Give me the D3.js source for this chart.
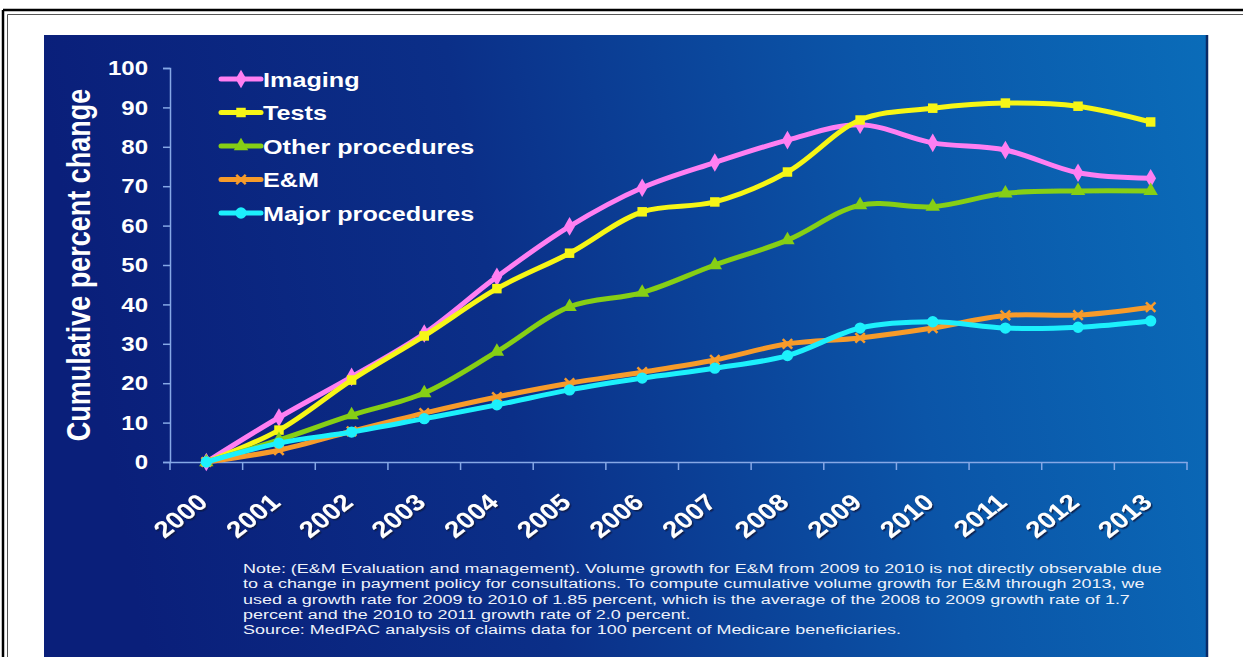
<!DOCTYPE html>
<html>
<head>
<meta charset="utf-8">
<script src="https://cdn.jsdelivr.net/npm/d3@7"></script>
<style>
  html, body { margin: 0; padding: 0; background: #fff; }
  svg { display: block; }
  text { font-family: "Liberation Sans", Arial, Helvetica, sans-serif; }
</style>
</head>
<body>
<svg id="chart" width="1243" height="657"></svg>
<script>
// Medicare volume growth by service type, cumulative percent change since 2000
const years = ["2000","2001","2002","2003","2004","2005","2006","2007","2008","2009","2010","2011","2012","2013"];

const imaging  = [0, 11.3, 21.6, 32.6, 47.0, 59.8, 69.6, 76.0, 81.7, 85.6, 81.0, 79.2, 73.4, 72.0];
const tests    = [0, 8.1, 20.8, 32.0, 44.0, 53.0, 63.5, 66.0, 73.6, 86.8, 89.8, 91.1, 90.3, 86.3];
const otherProcedures = [0, 5.6, 11.9, 17.5, 28.0, 39.4, 43.0, 50.0, 56.3, 65.2, 64.8, 68.2, 68.8, 68.8];
const eAndM    = [0, 3.0, 7.8, 12.4, 16.5, 20.0, 22.8, 25.9, 30.0, 31.5, 34.0, 37.2, 37.3, 39.3];
const majorProcedures = [0, 4.8, 7.6, 11.0, 14.5, 18.3, 21.3, 23.8, 27.0, 34.0, 35.6, 34.0, 34.2, 35.8];

const seriesNames = ["Imaging", "Tests", "Other procedures", "E&M", "Major procedures"];
const yTicks = [0, 10, 20, 30, 40, 50, 60, 70, 80, 90, 100];

const noteLines = [
  "Note: (E&M Evaluation and management). Volume growth for E&M from 2009 to 2010 is not directly observable due",
  "to a change in payment policy for consultations. To compute cumulative volume growth for E&M through 2013, we",
  "used a growth rate for 2009 to 2010 of 1.85 percent,  which is the average of the 2008 to 2009 growth rate of 1.7",
  "percent and the 2010 to 2011 growth rate of 2.0 percent.",
  "Source: MedPAC analysis of claims data for 100 percent of Medicare beneficiaries."
];

const series = [
  { name: seriesNames[0], values: imaging,         color: "#ff7ff2", symbol: d3.symbolDiamond,  size: 100, stroke: false },
  { name: seriesNames[1], values: tests,           color: "#f6f614", symbol: d3.symbolSquare,   size: 90,  stroke: false },
  { name: seriesNames[2], values: otherProcedures, color: "#86cf12", symbol: d3.symbolTriangle, size: 90,  stroke: false },
  { name: seriesNames[3], values: eAndM,           color: "#f79b2c", symbol: d3.symbolTimes,    size: 60,  stroke: true  },
  { name: seriesNames[4], values: majorProcedures, color: "#1ff0fc", symbol: d3.symbolCircle,   size: 100, stroke: false }
];

// The slide artwork is wider than it is tall; text is stretched to match
const SX = 1.2;
const NOTE_SX = 1.33;

const svg = d3.select("#chart");
const defs = svg.append("defs");

const grad = defs.append("linearGradient")
  .attr("id", "panelGrad")
  .attr("x1", "0%").attr("y1", "10%")
  .attr("x2", "100%").attr("y2", "0%");
grad.append("stop").attr("offset", "0%").attr("stop-color", "#0a1f7a");
grad.append("stop").attr("offset", "35%").attr("stop-color", "#0b2f88");
grad.append("stop").attr("offset", "70%").attr("stop-color", "#0b55a8");
grad.append("stop").attr("offset", "100%").attr("stop-color", "#0a6cb9");

const shadow = defs.append("filter").attr("id", "labelShadow")
  .attr("x", "-20%").attr("y", "-20%").attr("width", "140%").attr("height", "140%");
shadow.append("feDropShadow")
  .attr("dx", 1.5).attr("dy", 1.5).attr("stdDeviation", 0.7)
  .attr("flood-color", "#0a1840").attr("flood-opacity", 0.85);

const soft = defs.append("filter").attr("id", "soft");
soft.append("feGaussianBlur").attr("stdDeviation", 0.5);

// Page frame: double rule along the top and left
svg.append("line").attr("x1", 3).attr("x2", 1243).attr("y1", 10).attr("y2", 10)
  .attr("stroke", "#000").attr("stroke-width", 2.5);
svg.append("line").attr("x1", 3).attr("x2", 3).attr("y1", 10).attr("y2", 657)
  .attr("stroke", "#000").attr("stroke-width", 2.5);
svg.append("line").attr("x1", 7.5).attr("x2", 1243).attr("y1", 14.5).attr("y2", 14.5)
  .attr("stroke", "#555").attr("stroke-width", 1);
svg.append("line").attr("x1", 7.5).attr("x2", 7.5).attr("y1", 14.5).attr("y2", 657)
  .attr("stroke", "#555").attr("stroke-width", 1);

// Blue slide panel
svg.append("rect")
  .attr("x", 44).attr("y", 35).attr("width", 1164).attr("height", 640)
  .attr("fill", "url(#panelGrad)");
svg.append("line").attr("x1", 1207).attr("x2", 1207).attr("y1", 35).attr("y2", 657)
  .attr("stroke", "#0a2a66").attr("stroke-width", 2.5);

const plot = { left: 170, right: 1187, top: 68, bottom: 462 };

const x = d3.scaleBand().domain(years).range([plot.left, plot.right]);
const y = d3.scaleLinear().domain([0, 100]).range([plot.bottom, plot.top]);
const cx = d => x(d) + x.bandwidth() / 2;

const axisColor = "#86a8e6";

// Y axis
const yAxis = svg.append("g")
  .attr("transform", `translate(${plot.left},0)`)
  .call(d3.axisLeft(y).tickValues(yTicks).tickSize(7).tickFormat(""));
yAxis.select(".domain").attr("stroke", axisColor).attr("stroke-width", 1.5);
yAxis.selectAll(".tick line").attr("stroke", axisColor).attr("stroke-width", 1.5);

svg.append("g").selectAll("text")
  .data(yTicks)
  .join("text")
  .attr("transform", d => `translate(148,${y(d)}) scale(${SX},1)`)
  .attr("text-anchor", "end")
  .attr("dy", "0.36em")
  .attr("fill", "#fff")
  .attr("font-weight", "bold")
  .attr("font-size", 20)
  .text(d => d);

// X axis: ticks on category boundaries
const xAxis = svg.append("g")
  .attr("transform", `translate(0,${plot.bottom})`)
  .call(d3.axisBottom(x).tickSize(0).tickFormat(""));
xAxis.select(".domain").attr("stroke", axisColor).attr("stroke-width", 1.5);
xAxis.selectAll(".tick").remove();
const boundaries = years.map(d => x(d)).concat([plot.right]);
xAxis.selectAll(".bound")
  .data(boundaries)
  .join("line")
  .attr("class", "bound")
  .attr("x1", d => d).attr("x2", d => d)
  .attr("y1", 0).attr("y2", 8)
  .attr("stroke", axisColor).attr("stroke-width", 1.5);

svg.append("g").attr("filter", "url(#labelShadow)")
  .selectAll("text")
  .data(years)
  .join("text")
  .attr("transform", d => `translate(${cx(d) + 3},${plot.bottom + 42}) scale(${SX},1) rotate(-43)`)
  .attr("text-anchor", "end")
  .attr("fill", "#fff")
  .attr("font-weight", "bold")
  .attr("font-size", 23)
  .text(d => d);

// Y axis title
svg.append("text")
  .attr("transform", `translate(90,${(plot.top + plot.bottom) / 2}) scale(${SX},1) rotate(-90)`)
  .attr("text-anchor", "middle")
  .attr("fill", "#fff")
  .attr("font-weight", "bold")
  .attr("font-size", 27)
  .text("Cumulative percent change");

// Series lines and markers
const line = d3.line()
  .x((d, i) => cx(years[i]))
  .y(d => y(d))
  .curve(d3.curveCatmullRom.alpha(0.5));

const drawMarker = (g, s, px, py) => {
  const path = d3.symbol().type(s.symbol).size(s.size)();
  const m = g.append("path")
    .attr("d", path)
    .attr("transform", `translate(${px},${py})`);
  if (s.stroke) {
    m.attr("fill", "none").attr("stroke", s.color).attr("stroke-width", 2.5);
  } else {
    m.attr("fill", s.color);
  }
};

const seriesLayer = svg.append("g").attr("filter", "url(#soft)");
series.forEach(s => {
  const g = seriesLayer.append("g");
  g.append("path")
    .datum(s.values)
    .attr("d", line)
    .attr("fill", "none")
    .attr("stroke", s.color)
    .attr("stroke-width", 5)
    .attr("stroke-linejoin", "round")
    .attr("stroke-linecap", "round");
  s.values.forEach((v, i) => drawMarker(g, s, cx(years[i]), y(v)));
});

// Legend
const legend = svg.append("g");
series.forEach((s, i) => {
  const ly = 79 + i * 33.5;
  const g = legend.append("g").attr("filter", "url(#soft)");
  g.append("line")
    .attr("x1", 221).attr("x2", 261).attr("y1", ly).attr("y2", ly)
    .attr("stroke", s.color).attr("stroke-width", 5).attr("stroke-linecap", "round");
  drawMarker(g, s, 241, ly);
  legend.append("text")
    .attr("transform", `translate(263,${ly}) scale(${SX},1)`)
    .attr("dy", "0.36em")
    .attr("fill", "#fff")
    .attr("font-weight", "bold")
    .attr("font-size", 21)
    .text(s.name);
});

// Footnote
svg.append("g").selectAll("text")
  .data(noteLines)
  .join("text")
  .attr("transform", (d, i) => `translate(243,${573 + i * 15.3}) scale(${NOTE_SX},1)`)
  .attr("fill", "#eef2fa")
  .attr("font-size", 13.5)
  .text(d => d);
</script>
</body>
</html>
